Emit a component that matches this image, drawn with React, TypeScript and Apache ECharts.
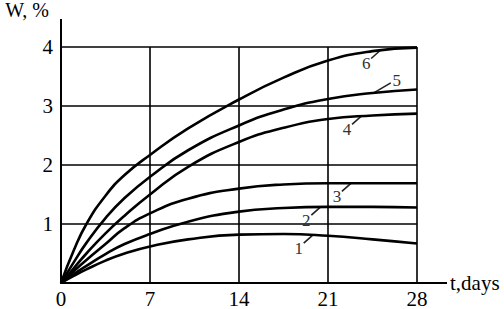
import React, { useEffect, useRef } from "react";
import * as echarts from "echarts";

// Time axis (days) and moisture content W, % for the six curves
const days = [0, 1, 2, 3.5, 5, 7, 10, 14, 17.5, 21, 24.5, 28];
const curve1 = [0, 0.12, 0.23, 0.38, 0.5, 0.62, 0.74, 0.82, 0.83, 0.8, 0.74, 0.67];
const curve2 = [0, 0.15, 0.29, 0.49, 0.66, 0.83, 1.04, 1.21, 1.27, 1.29, 1.29, 1.28];
const curve3 = [0, 0.2, 0.39, 0.66, 0.93, 1.18, 1.43, 1.6, 1.67, 1.69, 1.69, 1.69];
const curve4 = [0, 0.25, 0.5, 0.84, 1.14, 1.5, 1.97, 2.39, 2.63, 2.78, 2.84, 2.87];
const curve5 = [0, 0.35, 0.68, 1.1, 1.44, 1.8, 2.25, 2.67, 2.94, 3.12, 3.22, 3.28];
const curve6 = [0, 0.55, 1.0, 1.48, 1.83, 2.17, 2.62, 3.11, 3.48, 3.77, 3.93, 3.99];
const curves = [curve1, curve2, curve3, curve4, curve5, curve6];
const curveNames = ["1", "2", "3", "4", "5", "6"];
// day at which each curve's number label is attached
const labelDays = [19.8, 20.4, 22.8, 23.6, 24.6, 25.1];

const xMin = 0, xMax = 28, xStep = 7;
const yMin = 0, yMax = 4, yStep = 1;

const FONT = "'Liberation Serif', 'Times New Roman', serif";

function interp(vals: number[], d: number): number {
  for (let j = 0; j < days.length - 1; j++) {
    if (d >= days[j] && d <= days[j + 1]) {
      const t = (d - days[j]) / (days[j + 1] - days[j]);
      return vals[j] + t * (vals[j + 1] - vals[j]);
    }
  }
  return vals[vals.length - 1];
}

export default function App() {
  const ref = useRef<HTMLDivElement>(null);
  useEffect(() => {
    if (!ref.current) return;
    const chart = echarts.init(ref.current, null, { renderer: "svg" });
    const series = curves.map((vals, i) => ({
      type: "line",
      name: curveNames[i],
      data: days.map((d, j) => [d, vals[j]]),
      smooth: 0.5,
      symbol: "none",
      lineStyle: { color: "#000", width: 2.6 },
      z: 3,
    }));
    chart.setOption({
      animation: false,
      backgroundColor: "#fff",
      grid: { left: 61, right: 87, top: 46, bottom: 26 },
      xAxis: {
        type: "value",
        min: xMin,
        max: xMax,
        interval: xStep,
        name: "t,days",
        nameLocation: "end",
        nameGap: 33,
        nameTextStyle: { fontFamily: FONT, fontSize: 21, color: "#000", verticalAlign: "middle", align: "left" },
        axisLine: { show: true, lineStyle: { color: "#000", width: 2 } },
        axisTick: { show: false },
        splitLine: { show: true, lineStyle: { color: "#000", width: 1.6 } },
        axisLabel: { fontFamily: FONT, fontSize: 21, color: "#000", margin: 5 },
      },
      yAxis: {
        type: "value",
        min: yMin,
        max: yMax,
        interval: yStep,
        name: "W, %",
        nameLocation: "end",
        nameGap: 27,
        nameTextStyle: { fontFamily: FONT, fontSize: 20, color: "#000", align: "right", padding: [0, 12, 0, 0] },
        axisLine: { show: true, lineStyle: { color: "#000", width: 2 } },
        axisTick: { show: false },
        splitLine: { show: true, lineStyle: { color: "#000", width: 1.6 } },
        axisLabel: {
          fontFamily: FONT,
          fontSize: 21,
          color: "#000",
          margin: 8,
          formatter: (v: number) => (v === 0 ? "" : String(v)),
        },
      },
      series,
    });

    const graphics: any[] = [];
    const topLeft = chart.convertToPixel({ gridIndex: 0 }, [xMin, yMax]) as number[];
    const bottomRight = chart.convertToPixel({ gridIndex: 0 }, [xMax, yMin]) as number[];
    // axis extensions beyond the grid box
    graphics.push({
      type: "line",
      shape: { x1: topLeft[0], y1: topLeft[1], x2: topLeft[0], y2: topLeft[1] - 28 },
      style: { stroke: "#000", lineWidth: 2 },
    });
    graphics.push({
      type: "line",
      shape: { x1: bottomRight[0], y1: bottomRight[1], x2: bottomRight[0] + 30, y2: bottomRight[1] },
      style: { stroke: "#000", lineWidth: 2 },
    });

    curves.forEach((vals, i) => {
      const d = labelDays[i];
      const p = chart.convertToPixel({ gridIndex: 0 }, [d, interp(vals, d)]) as number[];
      const upRight = i === 4;
      const lx = upRight ? 17 : -9;
      const ly = upRight ? -10 : 8;
      graphics.push({
        type: "line",
        shape: { x1: p[0], y1: p[1], x2: p[0] + lx, y2: p[1] + ly },
        style: { stroke: "#222", lineWidth: 1.6 },
      });
      graphics.push({
        type: "text",
        x: upRight ? p[0] + lx + 6 : p[0] + lx - 5,
        y: upRight ? p[1] + ly - 2 : p[1] + ly + 5,
        style: {
          text: curveNames[i],
          font: `17px ${FONT}`,
          fill: "#333",
          align: "center",
          verticalAlign: "middle",
        },
      });
    });
    chart.setOption({ graphic: graphics });
    return () => chart.dispose();
  }, []);
  return <div ref={ref} style={{ position: "fixed", left: 0, top: 0, width: 504, height: 309 }} />;
}
